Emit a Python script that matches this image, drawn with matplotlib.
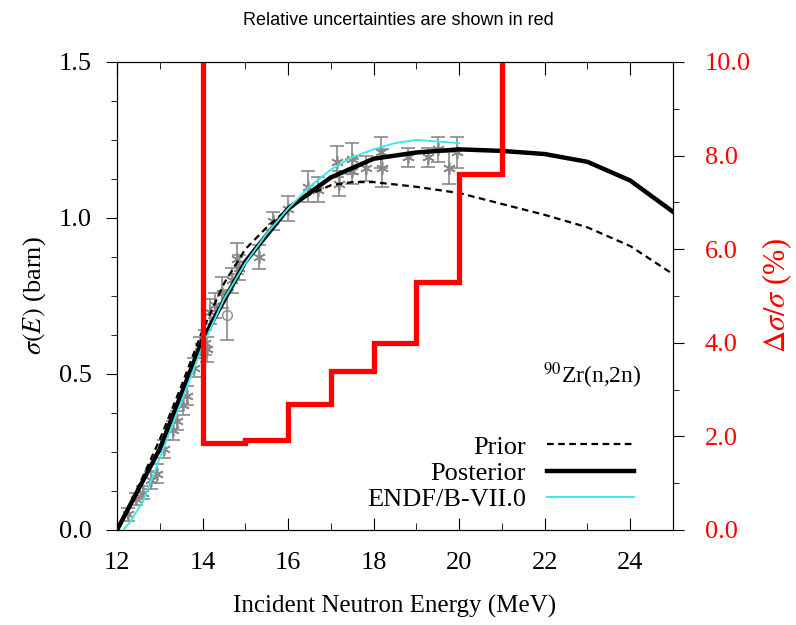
import numpy as np
import matplotlib
matplotlib.use('Agg')
from matplotlib import pyplot as plt
from matplotlib.ticker import MultipleLocator, FormatStrFormatter

plt.rcParams['font.family'] = ['Liberation Serif', 'DejaVu Serif']
plt.rcParams['mathtext.fontset'] = 'stix'

# evaluated cross sections (barn)
prior_e = [12.0, 12.5, 13.0, 13.5, 14.0, 14.5, 15.0, 15.5, 16.0, 16.5, 17.0, 17.5, 18.0,
           19.0, 20.0, 21.0, 22.0, 23.0, 24.0, 25.0]
prior_xs = [0.0, 0.14, 0.29, 0.46, 0.64, 0.79, 0.90, 0.97, 1.03, 1.075, 1.105, 1.115, 1.115,
            1.10, 1.08, 1.045, 1.01, 0.97, 0.91, 0.82]
post_e = [12.0, 13.0, 14.0, 15.0, 16.0, 17.0, 18.0, 19.0, 20.0, 21.0, 22.0, 23.0, 24.0, 25.0]
post_xs = [0.0, 0.26, 0.61, 0.86, 1.03, 1.13, 1.19, 1.21, 1.22, 1.215, 1.205, 1.18, 1.12, 1.02]
endf_e = [12.15, 12.3, 12.6, 13.0, 13.5, 14.0, 14.5, 15.0, 15.5, 16.0, 16.5, 17.0, 17.5, 18.0,
          18.5, 19.0, 19.5, 20.0]
endf_xs = [0.0, 0.025, 0.09, 0.23, 0.41, 0.59, 0.74, 0.855, 0.95, 1.03, 1.10, 1.155, 1.195, 1.22,
           1.24, 1.25, 1.245, 1.24]

# experimental data
exp_e = [12.25, 12.45, 12.6, 12.8, 12.93, 13.1, 13.3, 13.4, 13.55, 13.63, 13.8, 13.93, 14.05,
         14.1, 14.17, 14.3, 14.45, 14.7, 14.8, 14.85, 15.33, 15.65, 16.0, 16.46, 16.7, 17.15,
         17.2, 17.5, 17.5, 17.83, 18.18, 18.2, 18.8, 19.27, 19.5, 19.77, 19.96]
exp_xs = [0.05, 0.10, 0.12, 0.16, 0.18, 0.26, 0.32, 0.35, 0.40, 0.43, 0.52, 0.59, 0.60,
          0.58, 0.70, 0.72, 0.76, 0.80, 0.87, 0.84, 0.875, 0.99, 1.03, 1.10, 1.09, 1.18,
          1.11, 1.15, 1.19, 1.16, 1.21, 1.16, 1.195, 1.195, 1.22, 1.16, 1.21]
exp_err = [0.02, 0.02, 0.02, 0.03, 0.03, 0.03, 0.03, 0.03, 0.03, 0.03, 0.03, 0.03, 0.04,
           0.04, 0.04, 0.04, 0.05, 0.04, 0.05, 0.04, 0.04, 0.03, 0.04, 0.05, 0.04, 0.05,
           0.04, 0.04, 0.05, 0.04, 0.05, 0.06, 0.03, 0.03, 0.04, 0.05, 0.05]
circ_e = [14.57]
circ_xs = [0.69]
circ_err = [0.08]

# relative uncertainty (%) per energy bin
unc_edges = [14, 15, 16, 17, 18, 19, 20, 21]
unc_vals = [1.85, 1.93, 2.7, 3.4, 4.0, 5.3, 7.6]

fig = plt.figure(figsize=(7.96, 6.25), dpi=100)
ax = fig.add_axes([0.147, 0.152, 0.6985, 0.7488])
ax2 = ax.twinx()

ax.errorbar(exp_e, exp_xs, yerr=exp_err, fmt='none', ecolor='#8a8a8a',
            elinewidth=1.2, capsize=5, capthick=1.2, zorder=2)
ax.plot(exp_e, exp_xs, ls='none', marker=(6, 2, 0), color='#8a8a8a', ms=9, mew=1.2, zorder=2)
ax.errorbar(circ_e, circ_xs, yerr=circ_err, fmt='o', mfc='none', color='#8a8a8a', ms=7,
            elinewidth=1.2, capsize=5, capthick=1.2, zorder=2)
ax.plot(prior_e, prior_xs, '--', color='black', lw=1.6, dashes=(3, 2), label='Prior', zorder=3)
ax.plot(post_e, post_xs, '-', color='black', lw=3.2, label='Posterior', zorder=3)
ax.plot(endf_e, endf_xs, '-', color='#3ee8ee', lw=1.4, label='ENDF/B-VII.0', zorder=4)

step_x = np.repeat(unc_edges, 2)
step_y = np.concatenate([[15], np.repeat(unc_vals, 2), [15]])
ax2.plot(step_x, step_y, color='red', lw=3.8, solid_joinstyle='miter')

ax.set_xlim(12, 25)
ax.set_ylim(0, 1.5)
ax2.set_ylim(0, 10)

ax.xaxis.set_major_locator(MultipleLocator(2))
ax.xaxis.set_minor_locator(MultipleLocator(1))
ax.yaxis.set_major_locator(MultipleLocator(0.5))
ax.yaxis.set_minor_locator(MultipleLocator(0.125))
ax.yaxis.set_major_formatter(FormatStrFormatter('%.1f'))
ax2.yaxis.set_major_locator(MultipleLocator(2))
ax2.yaxis.set_minor_locator(MultipleLocator(1))
ax2.yaxis.set_major_formatter(FormatStrFormatter('%.1f'))

ax.tick_params(axis='x', which='both', direction='in', top=True, labelsize=19, pad=16)
ax.tick_params(axis='x', which='major', length=9)
ax.tick_params(axis='x', which='minor', length=5)
ax.tick_params(axis='y', which='major', direction='out', length=8, labelsize=19, pad=10)
ax.tick_params(axis='y', which='minor', direction='out', length=4)
ax2.tick_params(axis='y', which='major', direction='out', length=8, labelsize=19,
                labelcolor='red', pad=15)
ax2.tick_params(axis='y', which='minor', direction='out', length=4)

ax.set_xlabel('Incident Neutron Energy (MeV)', fontsize=18, labelpad=15)
ax.set_ylabel(r'$\sigma(E)$ (barn)', fontsize=19, labelpad=8)
ax2.set_ylabel(r'$\Delta\sigma/\sigma$ (%)', fontsize=22, color='red', labelpad=7)

ax.text(0.943, 0.33, r'$^{90}$Zr(n,2n)', transform=ax.transAxes, fontsize=17,
        ha='right', va='center')

leg = ax.legend(loc='lower right', bbox_to_anchor=(0.973, -0.01), frameon=False,
                fontsize=19, markerfirst=False, handlelength=3.3, labelspacing=0.1,
                handletextpad=0.8)
for t in leg.get_texts():
    t.set_ha('right')

fig.text(0.5, 0.967, 'Relative uncertainties are shown in red', ha='center', va='center',
         fontsize=13, family=['Liberation Sans', 'DejaVu Sans'])

fig.savefig('out.png', dpi=100)
